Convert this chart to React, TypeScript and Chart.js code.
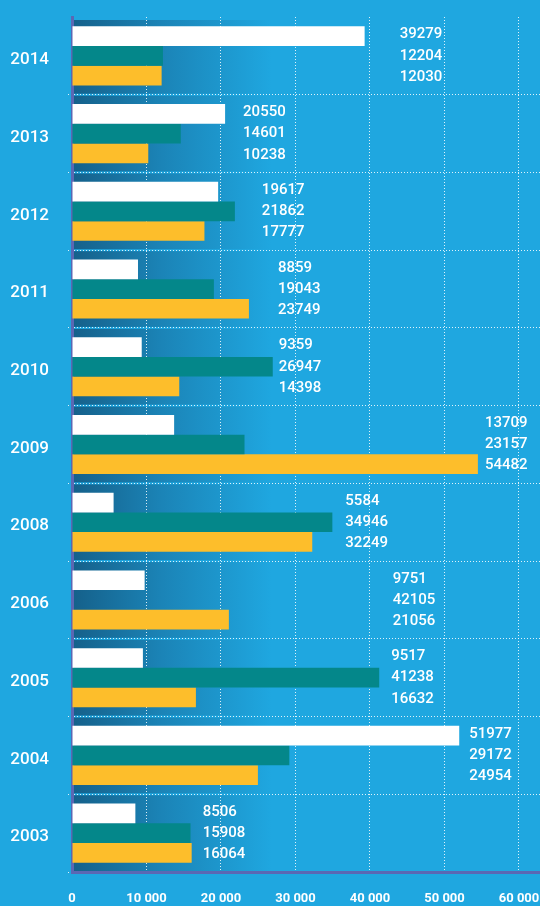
import React, { useEffect, useRef } from "react";
import { Chart, registerables } from "chart.js";

Chart.register(...registerables);

const years = ["2014", "2013", "2012", "2011", "2010", "2009", "2008", "2006", "2005", "2004", "2003"];
const whiteValues = [39279, 20550, 19617, 8859, 9359, 13709, 5584, 9751, 9517, 51977, 8506];
const tealValues = [12204, 14601, 21862, 19043, 26947, 23157, 34946, 42105, 41238, 29172, 15908];
const yellowValues = [12030, 10238, 17777, 23749, 14398, 54482, 32249, 21056, 16632, 24954, 16064];
// the reference shows no teal bar for 2006 (label only)
const tealBarShown = [true, true, true, true, true, true, true, false, true, true, true];
const xTickValues = [0, 10000, 20000, 30000, 40000, 50000, 60000];
const xTickLabels = ["0", "10 000", "20 000", "30 000", "40 000", "50 000", "60 000"];

// layout: pixel shift of each group's value labels past its longest bar
const labelShiftPx = [35, 18, 27, 29, 6, 7, 13, 7, 12, 10, 11];

const BG = "#1fa7e0";
const WHITE = "#ffffff";
const TEAL = "#04878a";
const YELLOW = "#fdbe2b";
const AXIS = "#5b67b3";
const GRID = "rgba(255,255,255,0.85)";

const bandPlugin = {
  id: "bands",
  beforeDraw(chart: any) {
    const { ctx, chartArea, scales } = chart;
    const y = scales.y;
    const n = years.length;
    const catH = (chartArea.bottom - chartArea.top) / n;
    const w = 200;
    const g = ctx.createLinearGradient(chartArea.left, 0, chartArea.left + w, 0);
    g.addColorStop(0, "#15608a");
    g.addColorStop(0.45, "#1b84b7");
    g.addColorStop(1, BG);
    ctx.save();
    ctx.fillStyle = g;
    for (let i = 0; i < n; i++) {
      const c = y.getPixelForValue(i);
      const top = c - catH / 2 + (i === 0 ? 3 : 1);
      const bot = c + catH / 2 - 1;
      ctx.fillRect(chartArea.left, top, w, bot - top);
    }
    ctx.restore();
  },
};

const labelPlugin = {
  id: "valueLabels",
  afterDatasetsDraw(chart: any) {
    const { ctx, scales } = chart;
    const x = scales.x;
    const series = [whiteValues, tealValues, yellowValues];
    ctx.save();
    ctx.font = "500 15px Roboto";
    ctx.fillStyle = "#ffffff";
    ctx.textAlign = "left";
    ctx.textBaseline = "middle";
    for (let i = 0; i < years.length; i++) {
      const maxV = Math.max(whiteValues[i], tealValues[i], yellowValues[i]);
      const lx = x.getPixelForValue(maxV) + labelShiftPx[i];
      for (let j = 0; j < 3; j++) {
        const el = chart.getDatasetMeta(j).data[i];
        const ly = el.y + (j - 1) * 1.5;
        ctx.fillText(String(series[j][i]), lx, ly);
      }
    }
    ctx.restore();
  },
};

export default function App() {
  const ref = useRef<HTMLCanvasElement | null>(null);
  useEffect(() => {
    document.body.style.margin = "0";
    const canvas = ref.current;
    if (!canvas) return;
    const gridColor = (c: any) => (c.index === 0 ? "rgba(0,0,0,0)" : GRID);
    const chart = new Chart(canvas, {
      type: "bar",
      data: {
        labels: years,
        datasets: [
          { data: whiteValues, backgroundColor: WHITE, borderWidth: 0 },
          {
            data: tealValues,
            backgroundColor: (c: any) => (tealBarShown[c.dataIndex] ? TEAL : "rgba(0,0,0,0)"),
            borderWidth: 0,
          },
          { data: yellowValues, backgroundColor: YELLOW, borderWidth: 0 },
        ],
      },
      options: {
        indexAxis: "y",
        animation: false,
        responsive: true,
        maintainAspectRatio: false,
        layout: { padding: { top: 17, right: 0, bottom: 0, left: 0 } },
        datasets: { bar: { categoryPercentage: 0.76, barPercentage: 1 } },
        plugins: { legend: { display: false }, tooltip: { enabled: false } },
        scales: {
          x: {
            type: "linear",
            position: "bottom",
            min: 0,
            max: 62819,
            afterBuildTicks: (s: any) => {
              s.ticks = xTickValues.map((v) => ({ value: v }));
            },
            afterFit: (s: any) => {
              s.height = 34;
              s.paddingLeft = 0;
              s.paddingRight = 0;
              s.paddingTop = 0;
              s.paddingBottom = 0;
            },
            ticks: {
              color: "#ffffff",
              font: { family: "Roboto", size: 13, weight: "bold" },
              padding: 19,
              maxRotation: 0,
              autoSkip: false,
              callback: (v: any) => xTickLabels[xTickValues.indexOf(Number(v))] ?? "",
            },
            grid: { color: GRID, lineWidth: 1, drawTicks: false },
            border: { display: true, color: AXIS, width: 3, dash: [1, 2] },
          },
          y: {
            type: "category",
            afterFit: (s: any) => {
              s.width = 72;
              s.paddingLeft = 0;
              s.paddingRight = 0;
              s.paddingTop = 0;
              s.paddingBottom = 0;
            },
            ticks: {
              color: "#ffffff",
              font: { family: "Roboto", size: 17, weight: "500" },
              padding: 19,
              labelOffset: 4,
            },
            grid: {
              offset: true,
              color: gridColor,
              tickColor: gridColor,
              tickLength: 4,
              lineWidth: 1,
              tickBorderDash: [1, 2],
            },
            border: { display: true, color: AXIS, width: 3, dash: [1, 2] },
          },
        },
      } as any,
      plugins: [bandPlugin, labelPlugin],
    });
    return () => chart.destroy();
  }, []);
  return (
    <div style={{ position: "absolute", left: 0, top: 0, width: 540, height: 906, background: BG }}>
      <canvas ref={ref} />
    </div>
  );
}
